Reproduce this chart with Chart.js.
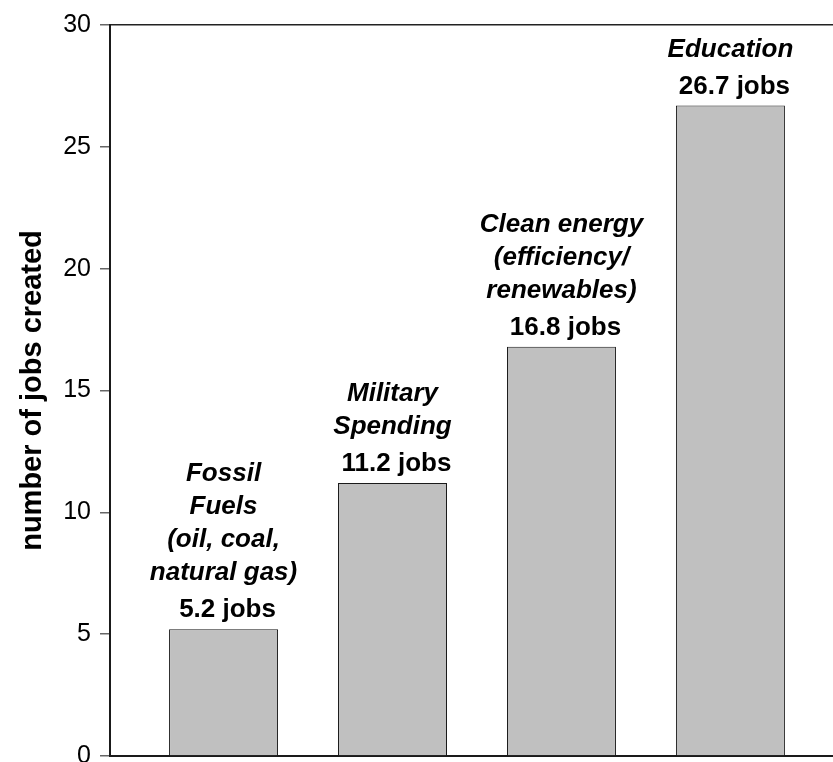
<!DOCTYPE html>
<html>
<head>
<meta charset="utf-8">
<title>Jobs created per $1 million spent</title>
<script src="https://cdn.jsdelivr.net/npm/chart.js@4.4.1/dist/chart.umd.min.js"></script>
<style>
  html, body { margin: 0; padding: 0; background: #fff; }
  #wrap { width: 833px; height: 762px; position: relative; }
</style>
</head>
<body>
<div id="wrap"><canvas id="myChart"></canvas></div>
<script>
// sectors, in the order they are drawn left to right
var categories = ['Fossil Fuels', 'Military Spending', 'Clean energy', 'Education'];
// caption lines shown above each bar
var captionLines = [
    ['Fossil', 'Fuels', '(oil, coal,', 'natural gas)'],
    ['Military', 'Spending'],
    ['Clean energy', '(efficiency/', 'renewables)'],
    ['Education']
];
// jobs created
var jobs = [5.2, 11.2, 16.8, 26.7];
var yTicks = [0, 5, 10, 15, 20, 25, 30];

var FONT = 'Arial, "Liberation Sans", Helvetica, sans-serif';

// captions and "x jobs" labels over the bars
var barLabels = {
    id: 'barLabels',
    afterDatasetsDraw: function (chart) {
        var ctx = chart.ctx;
        var meta = chart.getDatasetMeta(0);
        ctx.save();
        ctx.fillStyle = '#000';
        ctx.textAlign = 'center';
        ctx.textBaseline = 'middle';
        meta.data.forEach(function (bar, i) {
            var valueY = bar.y - 19;
            ctx.font = 'bold 26px ' + FONT;
            ctx.fillText(jobs[i] + ' jobs', bar.x + 4, valueY);

            var lines = captionLines[i];
            ctx.font = 'italic bold 26px ' + FONT;
            lines.forEach(function (line, k) {
                var y = valueY - 37 - (lines.length - 1 - k) * 33;
                ctx.fillText(line, bar.x, y);
            });
        });
        ctx.restore();
    }
};

document.addEventListener('DOMContentLoaded', function () {
    var ctx = document.getElementById('myChart').getContext('2d');
    var myChart = new Chart(ctx, {
        type: 'bar',
        data: {
            datasets: [{
                label: 'jobs',
                data: jobs.map(function (v, i) { return { x: i + 1, y: v }; }),
                backgroundColor: '#c0c0c0',
                borderColor: '#1a1a1a',
                borderWidth: 1,
                barPercentage: 0.645,
                categoryPercentage: 1
            }]
        },
        options: {
            responsive: true,
            maintainAspectRatio: false,
            animation: false,
            layout: { padding: { top: 25, right: 0, bottom: 0, left: 0 } },
            scales: {
                x: {
                    type: 'linear',
                    min: 0.328,
                    max: 4.607,
                    offset: false,
                    // one hidden tick per sector so the bar width follows the sector spacing
                    afterBuildTicks: function (scale) {
                        scale.ticks = categories.map(function (c, i) { return { value: i + 1 }; });
                    },
                    ticks: { display: false },
                    grid: { display: false, offset: false },
                    border: { display: true, color: '#1a1a1a', width: 2 },
                    afterFit: function (scale) { scale.height = 6; }
                },
                y: {
                    min: 0,
                    max: 30,
                    afterBuildTicks: function (scale) {
                        scale.ticks = yTicks.map(function (v) { return { value: v }; });
                    },
                    ticks: {
                        color: '#000',
                        padding: 9,
                        font: { family: FONT, size: 25 }
                    },
                    grid: {
                        color: function (c) { return c.tick && c.tick.value === 30 ? '#222' : 'rgba(0,0,0,0)'; },
                        lineWidth: 1.5,
                        tickColor: '#666',
                        tickLength: 10,
                        tickWidth: 1.5
                    },
                    border: { display: true, color: '#1a1a1a', width: 2 },
                    title: {
                        display: true,
                        text: 'number of jobs created',
                        color: '#000',
                        font: { family: FONT, size: 29, weight: 'bold' },
                        padding: { top: 16, bottom: 0 }
                    },
                    afterFit: function (scale) {
                        scale.width = 110;
                        scale.paddingTop = 0;
                        scale.paddingBottom = 0;
                    }
                }
            },
            plugins: {
                legend: { display: false },
                tooltip: { enabled: false }
            }
        },
        plugins: [barLabels]
    });
});
</script>
</body>
</html>
